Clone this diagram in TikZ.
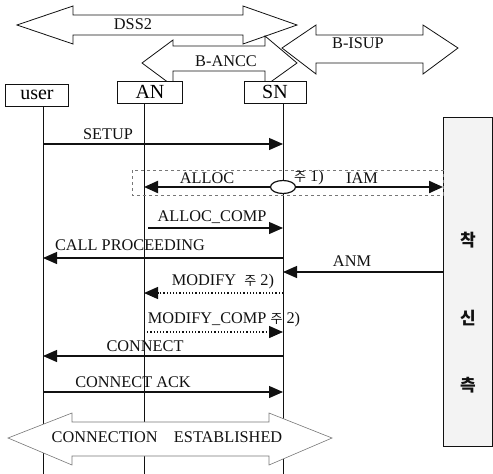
\documentclass[tikz,border=0pt]{standalone}
\usepackage{fontspec}
\setmainfont{Liberation Serif}
\newfontfamily\kfont{Noto Sans CJK KR}
\usetikzlibrary{arrows.meta,shapes.geometric}
\definecolor{ink}{HTML}{111111}
\definecolor{stip}{HTML}{F3F3F3}
\definecolor{faint}{HTML}{777777}
\tikzset{
  actor/.style  = {draw=ink, line width=0.9pt, inner sep=0pt,
                   minimum height=22, font=\fontsize{20}{22}\selectfont},
  life/.style   = {draw=ink, line width=0.9pt},
  msg/.style    = {-{Triangle[length=14pt,width=12pt]}, draw=ink, line width=1.2pt},
  dmsg/.style   = {msg, dotted, line width=1.4pt},
  heavy/.style  = {msg, line width=2.2pt},
  band/.style   = {draw=ink, line width=0.8pt, line join=miter},
  lbl/.style    = {font=\fontsize{16.3}{19}\selectfont, text=ink, inner sep=0pt},
}
\begin{document}
\begin{tikzpicture}[x=1pt,y=-1pt]
  \useasboundingbox (0,0) rectangle (493,474);
  % protocol spans
  \draw[band] (17,25) -- (73,6) -- (73,15) -- (243,15) -- (243,6) -- (297,25)
    -- (243,44) -- (243,35) -- (73,35) -- (73,44) -- cycle;
  \node[lbl] (dss) at (133,24) {DSS2};
  \draw[band] (142,63) -- (173,40) -- (173,46) -- (265,46) -- (265,36) -- (297,63)
    -- (265,86) -- (265,71) -- (173,71) -- (173,86) -- cycle;
  \node[lbl] (ancc) at (226,61) {B-ANCC};
  \draw[band] (282,48) -- (316,25) -- (316,35) -- (423,35) -- (423,25) -- (458,48)
    -- (423,74) -- (423,63) -- (316,63) -- (316,74) -- cycle;
  \node[lbl] (isup) at (358,43) {B-ISUP};
  % entities
  \node[actor, fill=white, minimum width=63] (user) at (37,95) {user};
  \node[actor, fill=white, minimum width=65] (AN) at (150,92) {AN};
  \node[actor, fill=white, minimum width=62] (SN) at (275,92) {SN};
  \coordinate (uL) at (43,106);  \coordinate (uB) at (43,474);
  \coordinate (aL) at (144,103); \coordinate (aB) at (144,474);
  \coordinate (sL) at (283,103); \coordinate (sB) at (283,474);
  \draw[life] (uL) -- (uB);
  \draw[life] (aL) -- (aB);
  \draw[life] (sL) -- (sB);
  % called side
  \draw[draw=ink, fill=stip, line width=1pt] (443,117) rectangle (492,446);
  \coordinate (cL) at (443,117);
  \foreach \ch/\yy/\nm in {착/240/ca,신/318/cb,측/385/cc}{
    \node[font=\kfont\bfseries\fontsize{17}{17}\selectfont, text=ink] (\nm) at (468,\yy) {\ch};}
  % message rows
  \coordinate (setup) at (0,144);
  \coordinate (alloc) at (0,187);
  \coordinate (acomp) at (0,228);
  \coordinate (cproc) at (0,258);
  \coordinate (anm)   at (0,272);
  \coordinate (mod)   at (0,293);
  \coordinate (mcomp) at (0,332);
  \coordinate (conn)  at (0,356);
  \coordinate (cack)  at (0,392);
  \coordinate (acs)   at (148,228);
  % alloc / iam exchange
  \draw[draw=faint, dashed, line width=0.6pt] (132,170) rectangle (443,195);
  \node[ellipse, draw=ink, fill=white, line width=1.2pt, minimum width=25,
        minimum height=13, inner sep=0pt] (relay) at (sL |- alloc) {};
  \draw[heavy] (relay) -- (aL |- alloc);
  \draw[heavy] (relay) -- (cL |- alloc);
  \node[lbl] (tAlloc) at (207,178) {ALLOC};
  \node[lbl] (tNote1) at (309,178) {\kfont\fontsize{13}{13}\selectfont 주\normalfont\fontsize{16.3}{19}\selectfont\ 1)};
  \node[lbl] (tIam) at (362,178) {IAM};
  % messages
  \draw[msg] (uL |- setup) -- (sL |- setup);
  \node[lbl] (tSetup) at (108,134) {SETUP};
  \draw[msg] (acs) -- (sL |- acomp);
  \node[lbl] (tAcomp) at (212,217) {ALLOC\_COMP};
  \draw[msg] (sL |- cproc) -- (uL |- cproc);
  \node[lbl] (tCproc) at (130,245) {CALL PROCEEDING};
  \draw[msg] (cL |- anm) -- (sL |- anm);
  \node[lbl] (tAnm) at (352,261) {ANM};
  \draw[dmsg] (sL |- mod) -- (aL |- mod);
  \node[lbl] (tMod) at (223,282) {MODIFY\ \ {\kfont\fontsize{13}{13}\selectfont 주}\ 2)};
  \draw[dmsg] (aL |- mcomp) -- (sL |- mcomp);
  \node[lbl] (tMcomp) at (224,320) {MODIFY\_COMP {\kfont\fontsize{13}{13}\selectfont 주}\ 2)};
  \draw[msg] (sL |- conn) -- (uL |- conn);
  \node[lbl] (tConn) at (145,346) {CONNECT};
  \draw[msg] (uL |- cack) -- (sL |- cack);
  \node[lbl] (tCack) at (133,382) {CONNECT ACK};
  % established
  \draw[band, draw=faint, fill=white, line width=0.6pt] (8,438) -- (72,413) -- (72,422)
    -- (269,422) -- (269,413) -- (332,438) -- (269,465) -- (269,456) -- (72,456)
    -- (72,465) -- cycle;
  \node[lbl] (tEst) at (167,437) {CONNECTION\hspace{1em}ESTABLISHED};
\end{tikzpicture}
\end{document}
